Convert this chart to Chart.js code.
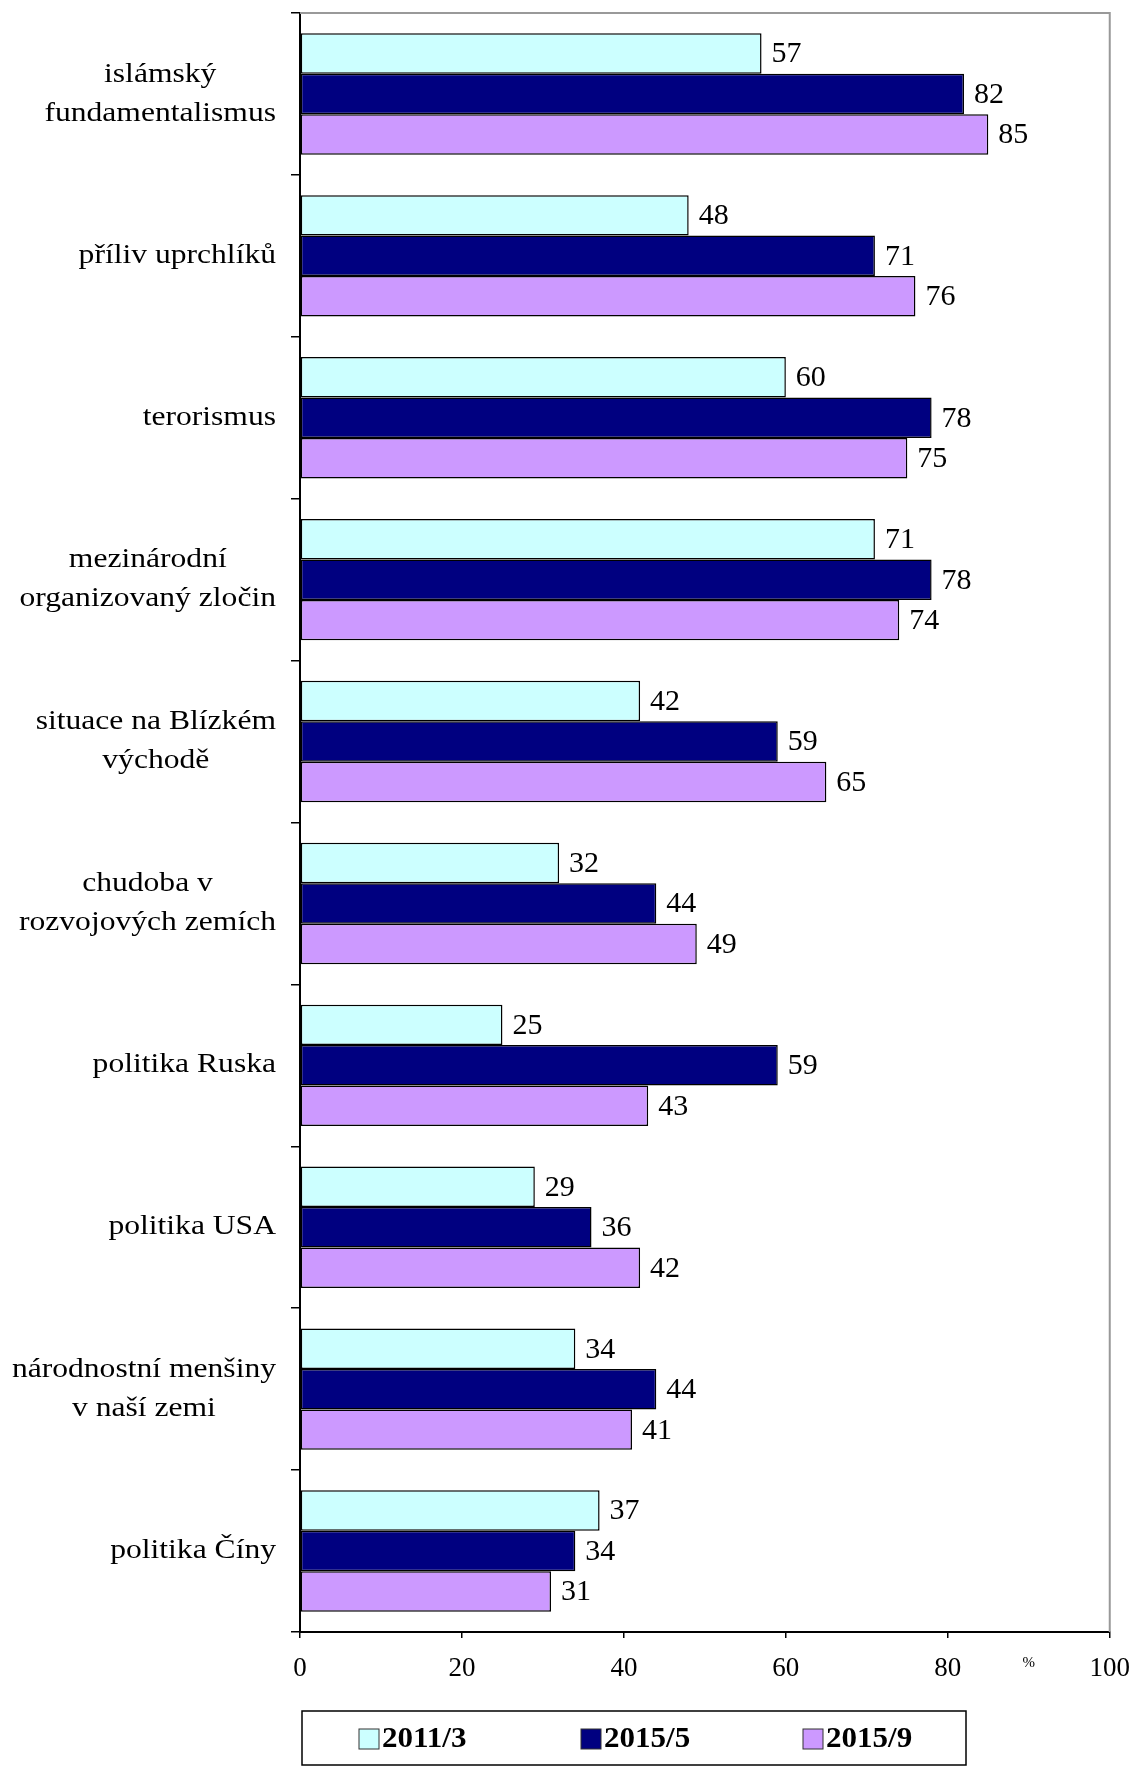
<!DOCTYPE html>
<html>
<head>
<meta charset="utf-8">
<script src="https://cdn.jsdelivr.net/npm/chart.js@4.4.1/dist/chart.umd.min.js"></script>
<style>
    body { margin: 0; background: #fff; overflow: hidden; }
    #wrap { width: 1145px; height: 1767px; }
    .fontprobe { position: absolute; left: -9999px; top: 0; font-family: "Liberation Serif", "Times New Roman", Tinos, serif; }
</style>
</head>
<body>
<span class="fontprobe">příliv <b>2011/3</b></span>
<div id="wrap"><canvas id="threatChart"></canvas></div>
<script>
// categories (each label split into its printed lines)
const categories = [
    ['islámský', 'fundamentalismus'],
    ['příliv uprchlíků'],
    ['terorismus'],
    ['mezinárodní', 'organizovaný zločin'],
    ['situace na Blízkém', 'východě'],
    ['chudoba v', 'rozvojových zemích'],
    ['politika Ruska'],
    ['politika USA'],
    ['národnostní menšiny', 'v naší zemi'],
    ['politika Číny']
];
const seriesNames = ['2011/3', '2015/5', '2015/9'];
const values2011_3 = [57, 48, 60, 71, 42, 32, 25, 29, 34, 37];
const values2015_5 = [82, 71, 78, 78, 59, 44, 59, 36, 44, 34];
const values2015_9 = [85, 76, 75, 74, 65, 49, 43, 42, 41, 31];
const xTicks = [0, 20, 40, 60, 80, 100];
const unitLabel = '%';

const colors = ['#CCFFFF', '#000080', '#CC99FF'];
const serif = '"Liberation Serif", "Times New Roman", Tinos, serif';

// draws text stretched horizontally by sx
function stretchedText(ctx, text, x, y, sx, align) {
    ctx.save();
    ctx.translate(x, y);
    ctx.scale(sx, 1);
    ctx.textAlign = align;
    ctx.fillText(text, 0, 0);
    ctx.restore();
}

const extrasPlugin = {
    id: 'extras',
    afterDatasetsDraw(chart) {
        const ctx = chart.ctx;
        const area = chart.chartArea;

        //gray frame on top and right
        ctx.save();
        ctx.strokeStyle = '#999';
        ctx.lineWidth = 2;
        ctx.beginPath();
        ctx.moveTo(area.left, area.top);
        ctx.lineTo(area.right, area.top);
        ctx.lineTo(area.right, area.bottom);
        ctx.stroke();
        ctx.restore();

        //value labels
        ctx.save();
        ctx.fillStyle = '#000';
        ctx.font = '30px ' + serif;
        ctx.textBaseline = 'middle';
        chart.data.datasets.forEach((ds, i) => {
            const meta = chart.getDatasetMeta(i);
            meta.data.forEach((bar, j) => {
                ctx.textAlign = 'left';
                ctx.fillText(String(ds.data[j]), bar.x + 10, bar.y + 1);
            });
        });
        ctx.restore();
    },
    afterDraw(chart) {
        const ctx = chart.ctx;
        const area = chart.chartArea;
        const yScale = chart.scales.y;
        const xScale = chart.scales.x;

        //category labels, lines centred on each other, block right aligned
        ctx.save();
        ctx.fillStyle = '#000';
        ctx.font = '27px ' + serif;
        ctx.textBaseline = 'middle';
        const sx = 1.17;
        const right = area.left - 24;
        categories.forEach((lines, i) => {
            const yc = yScale.getPixelForValue(i);
            const maxW = Math.max(...lines.map(l => ctx.measureText(l).width * sx));
            const cx = right - maxW / 2;
            lines.forEach((line, k) => {
                const y = yc + (k - (lines.length - 1) / 2) * 39;
                stretchedText(ctx, line, cx, y, sx, 'center');
            });
        });
        ctx.restore();

        //% sign near the x axis
        ctx.save();
        ctx.fillStyle = '#000';
        ctx.font = '15px ' + serif;
        ctx.textAlign = 'center';
        ctx.textBaseline = 'middle';
        ctx.fillText(unitLabel, xScale.getPixelForValue(90), area.bottom + 31);
        ctx.restore();

        //legend box
        const left = area.left + 2;
        const top = chart.height - 56;
        ctx.save();
        ctx.strokeStyle = '#000';
        ctx.lineWidth = 1.5;
        ctx.strokeRect(left, top, 664, 54);
        ctx.font = 'bold 29px ' + serif;
        ctx.textBaseline = 'middle';
        chart.data.datasets.forEach((ds, i) => {
            const x0 = left + 57 + i * 222;
            ctx.fillStyle = ds.backgroundColor;
            ctx.fillRect(x0, top + 18, 20, 20);
            ctx.strokeStyle = '#333';
            ctx.lineWidth = 1;
            ctx.strokeRect(x0, top + 18, 20, 20);
            ctx.fillStyle = '#000';
            stretchedText(ctx, ds.label, x0 + 23, top + 29, 1.07, 'left');
        });
        ctx.restore();
    }
};

function renderChart() {
    const ctx = document.getElementById('threatChart').getContext('2d');
    const seriesValues = [values2011_3, values2015_5, values2015_9];
    new Chart(ctx, {
        type: 'bar',
        data: {
            labels: categories.map(c => c.join(' ')),
            datasets: seriesNames.map((name, i) => ({
                label: name,
                data: seriesValues[i],
                backgroundColor: colors[i],
                borderColor: '#000',
                borderWidth: 1.5,
                borderSkipped: false,
                categoryPercentage: 0.75,
                barPercentage: 1
            }))
        },
        options: {
            indexAxis: 'y',
            responsive: true,
            maintainAspectRatio: false,
            animation: false,
            layout: { padding: { top: 13, right: 24, left: 0, bottom: 0 } },
            plugins: {
                legend: { display: false },
                tooltip: { enabled: false }
            },
            scales: {
                x: {
                    min: 0,
                    max: 100,
                    afterBuildTicks: scale => { scale.ticks = xTicks.map(v => ({ value: v })); },
                    afterFit: scale => { scale.height = 135; },
                    ticks: {
                        color: '#000',
                        font: { family: serif, size: 27 },
                        padding: 15,
                        maxRotation: 0
                    },
                    grid: { drawOnChartArea: false, color: '#000', tickLength: 6, lineWidth: 1.5 },
                    border: { color: '#000', width: 2 }
                },
                y: {
                    afterFit: scale => { scale.width = 300; },
                    ticks: { display: false },
                    grid: { drawOnChartArea: false, color: '#000', tickLength: 9, lineWidth: 1.5, offset: true },
                    border: { color: '#000', width: 2 }
                }
            }
        },
        plugins: [extrasPlugin]
    });
}

// make sure the serif face is ready before drawing on the canvas
Promise.all([
    document.fonts.load('27px "Liberation Serif"', 'příliv'),
    document.fonts.load('bold 29px "Liberation Serif"', '2011/3')
]).catch(() => null).then(renderChart);
</script>
</body>
</html>
